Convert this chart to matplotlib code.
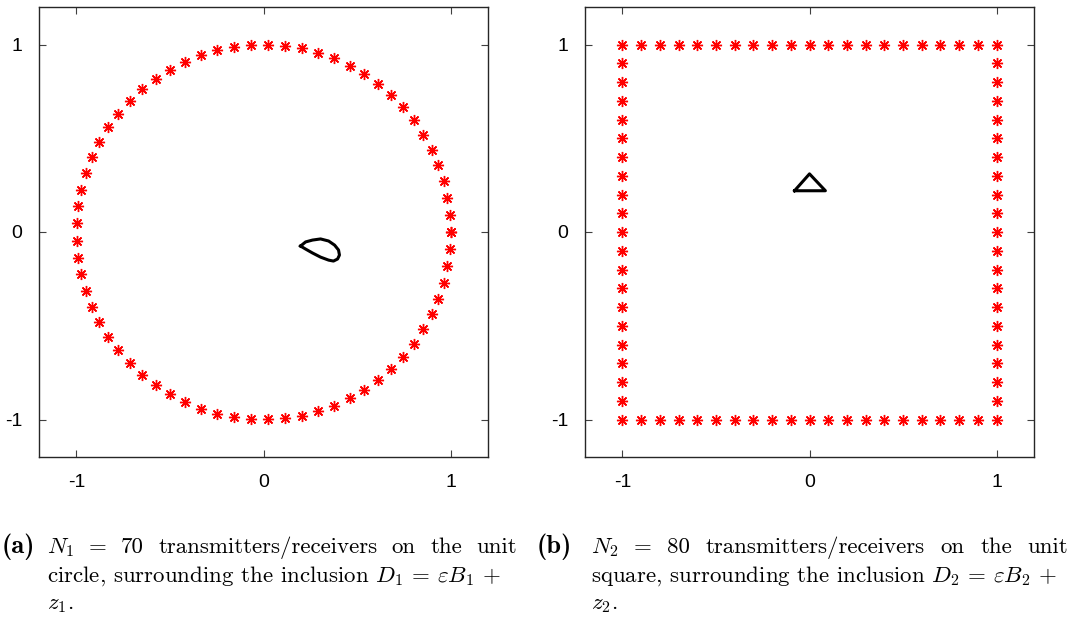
import numpy as np
import matplotlib
matplotlib.use("Agg")
import matplotlib.pyplot as plt

plt.rcParams['axes.unicode_minus'] = False
plt.rcParams['mathtext.fontset'] = 'cm'

# transmitters/receivers
n_circle = 70
square_side = [-1.0, -0.9, -0.8, -0.7, -0.6, -0.5, -0.4, -0.3, -0.2, -0.1, 0.0,
               0.1, 0.2, 0.3, 0.4, 0.5, 0.6, 0.7, 0.8, 0.9, 1.0]

# inclusion D1 outline
d1_x = [0.198, 0.225, 0.262, 0.305, 0.348, 0.380, 0.401, 0.406, 0.396, 0.374,
        0.348, 0.305, 0.262, 0.225, 0.198]
d1_y = [-0.075, -0.053, -0.043, -0.037, -0.048, -0.070, -0.096, -0.123, -0.144,
        -0.155, -0.150, -0.134, -0.112, -0.091, -0.075]

# inclusion D2 outline (triangle)
d2_x = [-0.08, 0.085, 0.0, -0.08]
d2_y = [0.22, 0.22, 0.31, 0.22]

ticks = [-1, 0, 1]
tick_labels = ['-1', '0', '1']

theta = np.linspace(0, 2 * np.pi, n_circle)
circ_x = np.cos(theta)
circ_y = np.sin(theta)

s = np.array(square_side)
sq_x = np.concatenate([s[:-1], np.ones(len(s) - 1), s[::-1][:-1], -np.ones(len(s) - 1)])
sq_y = np.concatenate([-np.ones(len(s) - 1), s[:-1], np.ones(len(s) - 1), s[::-1][:-1]])

W, H = 1075, 618
fig = plt.figure(figsize=(W / 100, H / 100), dpi=100)
ax1 = fig.add_axes([39 / W, 161 / H, 449 / W, 450 / H])
ax2 = fig.add_axes([585 / W, 161 / H, 449 / W, 450 / H])

marker = (8, 2, 0)
for ax, px, py, ix, iy in [(ax1, circ_x, circ_y, d1_x, d1_y),
                           (ax2, sq_x, sq_y, d2_x, d2_y)]:
    ax.plot(px, py, linestyle='none', marker=marker, color='red',
            markersize=8, markeredgewidth=1.0)
    ax.plot(ix, iy, color='black', linewidth=2.2, solid_joinstyle='round')
    ax.set_xlim(-1.2, 1.2)
    ax.set_ylim(-1.2, 1.2)
    ax.set_xticks(ticks)
    ax.set_yticks(ticks)
    ax.set_xticklabels(tick_labels, family='Liberation Sans', fontsize=14)
    ax.set_yticklabels(tick_labels, family='Liberation Sans', fontsize=14)
    ax.tick_params(direction='in', length=5, width=0.8, top=True, right=True,
                   color='#404040', pad=12)
    for sp in ax.spines.values():
        sp.set_color('#262626')
        sp.set_linewidth(1.0)

cap_a = [r"$N_1$ = 70 transmitters/receivers on the unit",
         r"circle, surrounding the inclusion $D_1$ = $\varepsilon B_1$ +",
         r"$z_1$."]
cap_b = [r"$N_2$ = 80 transmitters/receivers on the unit",
         r"square, surrounding the inclusion $D_2$ = $\varepsilon B_2$ +",
         r"$z_2$."]

renderer = fig.canvas.get_renderer()
cap_size = 16.5


def put_line(text, x_left, x_right, y, justify):
    """Write one caption line; spread the words over x_left..x_right if justify."""
    if not justify:
        fig.text(x_left / W, 1 - y / H, text, family='cmr10', fontsize=cap_size,
                 va='baseline', ha='left')
        return
    words = text.split(' ')
    objs = [fig.text(0, 1 - y / H, w, family='cmr10', fontsize=cap_size,
                     va='baseline', ha='left') for w in words]
    widths = [o.get_window_extent(renderer).width for o in objs]
    gap = (x_right - x_left - sum(widths)) / (len(words) - 1)
    x = x_left
    for o, w in zip(objs, widths):
        o.set_x(x / W)
        x += w + gap


baselines = [553, 582, 609]
for lbl, x0, xt, xr, lines in [("(a)", 2, 47, 517, cap_a),
                               ("(b)", 537, 591, 1068, cap_b)]:
    fig.text(x0 / W, 1 - baselines[0] / H, lbl, family='cmb10', fontsize=19,
             va='baseline', ha='left')
    for i, (yy, ln) in enumerate(zip(baselines, lines)):
        put_line(ln, xt, xr, yy, justify=(i == 0))

fig.savefig("out.png", dpi=100)
